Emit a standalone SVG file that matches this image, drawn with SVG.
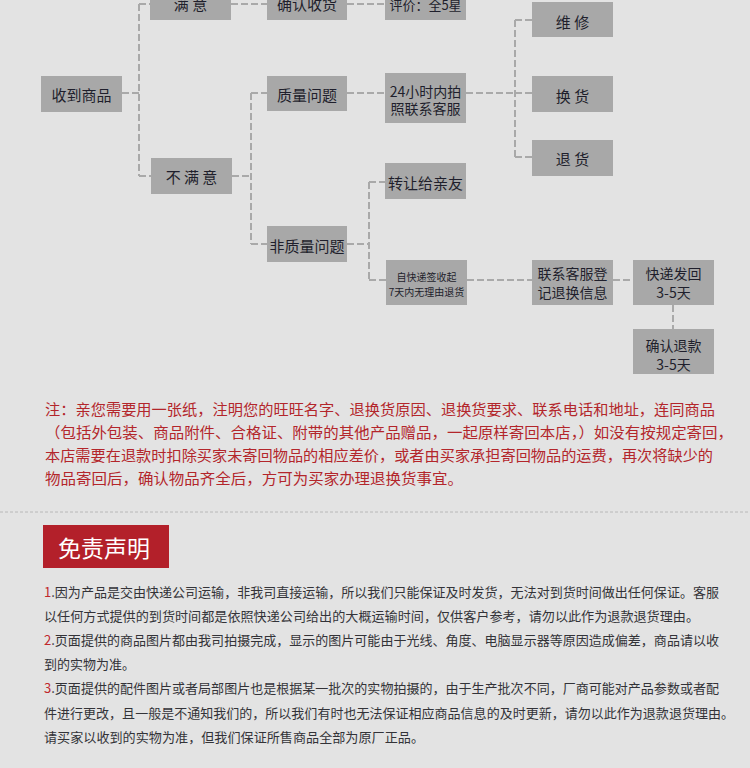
<svg xmlns="http://www.w3.org/2000/svg" width="750" height="768" viewBox="0 0 750 768">
<style>
.bg{fill:#e3e3e3}
.box{fill:#a8a8a8}
.bt{font-family:"Noto Sans CJK SC","Noto Sans",sans-serif;font-size:15px;fill:#1f1f2c;text-anchor:middle;dominant-baseline:central}
.conn path{fill:none;stroke:#a9a9a9;stroke-width:2;stroke-dasharray:7 3}
.note{font-family:"Noto Sans CJK SC","Noto Sans",sans-serif;font-size:15px;fill:#b3262b}
.disc{font-family:"Noto Sans CJK SC","Noto Sans",sans-serif;font-size:13px;fill:#333338}
.num{fill:#c0282d}
</style>
<rect class="bg" x="0" y="0" width="750" height="768"/>

<g class="conn" id="connectors">
<path d="M122,93 H139"/>
<path d="M139,4 V176"/>
<path d="M139,4 H150"/>
<path d="M139,176 H151"/>
<path d="M231,4 H267"/>
<path d="M347,4 H385"/>
<path d="M232,176 H251"/>
<path d="M251,93 V244"/>
<path d="M251,93 H267"/>
<path d="M251,244 H267"/>
<path d="M347,93 H385"/>
<path d="M466,93 H515"/>
<path d="M515,20 V157"/>
<path d="M515,20 H532"/>
<path d="M515,93 H532"/>
<path d="M515,157 H532"/>
<path d="M347,244 H369"/>
<path d="M369,182 V280"/>
<path d="M369,182 H385"/>
<path d="M369,280 H386"/>
<path d="M467,280 H532"/>
<path d="M613,280 H633"/>
<path d="M673,305 V329"/>
</g>

<g id="n-receive"><rect class="box" x="41" y="76" width="81" height="36"/><text class="bt" x="81.5" y="94">收到商品</text></g>
<g id="n-satisfied"><rect class="box" x="150" y="-16" width="81" height="36"/><text class="bt" x="190.5" y="3" xml:space="preserve">满 意</text></g>
<g id="n-confirm"><rect class="box" x="267" y="-16" width="80" height="36"/><text class="bt" x="307" y="3">确认收货</text></g>
<g id="n-rate"><rect class="box" x="385" y="-16" width="81" height="36"/><text class="bt" x="425.5" y="4" style="font-size:13px">评价：全5星</text></g>
<g id="n-quality"><rect class="box" x="267" y="76" width="80" height="35"/><text class="bt" x="307" y="94">质量问题</text></g>
<g id="n-unsatisfied"><rect class="box" x="151" y="158" width="81" height="36"/><text class="bt" x="191.5" y="176" xml:space="preserve">不 满 意</text></g>
<g id="n-24h"><rect class="box" x="385" y="73" width="81" height="50"/><text class="bt" x="425.5" y="91" style="font-size:14px">24小时内拍</text><text class="bt" x="425.5" y="108" style="font-size:14px">照联系客服</text></g>
<g id="n-repair"><rect class="box" x="532" y="2" width="81" height="35"/><text class="bt" x="572.5" y="21" xml:space="preserve">维 修</text></g>
<g id="n-exchange"><rect class="box" x="532" y="76" width="81" height="36"/><text class="bt" x="572.5" y="95" xml:space="preserve">换 货</text></g>
<g id="n-return"><rect class="box" x="532" y="140" width="81" height="36"/><text class="bt" x="572.5" y="158" xml:space="preserve">退 货</text></g>
<g id="n-transfer"><rect class="box" x="385" y="163" width="81" height="36"/><text class="bt" x="425.5" y="182">转让给亲友</text></g>
<g id="n-nonquality"><rect class="box" x="267" y="226" width="80" height="36"/><text class="bt" x="307" y="245">非质量问题</text></g>
<g id="n-7days"><rect class="box" x="386" y="260" width="81" height="45"/><text class="bt" x="426.5" y="276" style="font-size:10px">自快递签收起</text><text class="bt" x="426.5" y="291" style="font-size:10px">7天内无理由退货</text></g>
<g id="n-contact"><rect class="box" x="532" y="260" width="81" height="45"/><text class="bt" x="572.5" y="273" style="font-size:14px">联系客服登</text><text class="bt" x="572.5" y="292" style="font-size:14px">记退换信息</text></g>
<g id="n-sendback"><rect class="box" x="633" y="260" width="81" height="45"/><text class="bt" x="673.5" y="273" style="font-size:14px">快递发回</text><text class="bt" x="673.5" y="292" style="font-size:14px">3-5天</text></g>
<g id="n-refund"><rect class="box" x="633" y="329" width="81" height="45"/><text class="bt" x="673.5" y="345" style="font-size:14px">确认退款</text><text class="bt" x="673.5" y="364" style="font-size:14px">3-5天</text></g>

<g id="note">
<text class="note" x="45" y="415" textLength="670" lengthAdjust="spacingAndGlyphs">注：亲您需要用一张纸，注明您的旺旺名字、退换货原因、退换货要求、联系电话和地址，连同商品</text>
<text class="note" x="45" y="438" textLength="688" lengthAdjust="spacingAndGlyphs">（包括外包装、商品附件、合格证、附带的其他产品赠品，一起原样寄回本店，）如没有按规定寄回，</text>
<text class="note" x="45" y="461" textLength="668" lengthAdjust="spacingAndGlyphs">本店需要在退款时扣除买家未寄回物品的相应差价，或者由买家承担寄回物品的运费，再次将缺少的</text>
<text class="note" x="45" y="484" textLength="418" lengthAdjust="spacingAndGlyphs">物品寄回后，确认物品齐全后，方可为买家办理退换货事宜。</text>
</g>

<line x1="0" y1="512" x2="750" y2="512" stroke="#b8b8b8" stroke-width="1" stroke-dasharray="3 2"/>

<g id="disclaimer-title">
<rect x="43" y="525" width="126" height="43" fill="#b3202a"/>
<text x="104" y="547" style="font-family:'Noto Sans CJK SC','Noto Sans',sans-serif;font-size:23px;fill:#ffffff;text-anchor:middle;dominant-baseline:central">免责声明</text>
</g>

<g id="disclaimer">
<text class="disc" x="44" y="597" textLength="675" lengthAdjust="spacingAndGlyphs"><tspan class="num">1</tspan>.因为产品是交由快递公司运输，非我司直接运输，所以我们只能保证及时发货，无法对到货时间做出任何保证。客服</text>
<text class="disc" x="44" y="621" textLength="655" lengthAdjust="spacingAndGlyphs">以任何方式提供的到货时间都是依照快递公司给出的大概运输时间，仅供客户参考，请勿以此作为退款退货理由。</text>
<text class="disc" x="44" y="645" textLength="675" lengthAdjust="spacingAndGlyphs"><tspan class="num">2</tspan>.页面提供的商品图片都由我司拍摄完成，显示的图片可能由于光线、角度、电脑显示器等原因造成偏差，商品请以收</text>
<text class="disc" x="44" y="669">到的实物为准。</text>
<text class="disc" x="44" y="693" textLength="675" lengthAdjust="spacingAndGlyphs"><tspan class="num">3</tspan>.页面提供的配件图片或者局部图片也是根据某一批次的实物拍摄的，由于生产批次不同，厂商可能对产品参数或者配</text>
<text class="disc" x="44" y="718" textLength="690" lengthAdjust="spacingAndGlyphs">件进行更改，且一般是不通知我们的，所以我们有时也无法保证相应商品信息的及时更新，请勿以此作为退款退货理由。</text>
<text class="disc" x="44" y="742" textLength="380" lengthAdjust="spacingAndGlyphs">请买家以收到的实物为准，但我们保证所售商品全部为原厂正品。</text>
</g>
</svg>
